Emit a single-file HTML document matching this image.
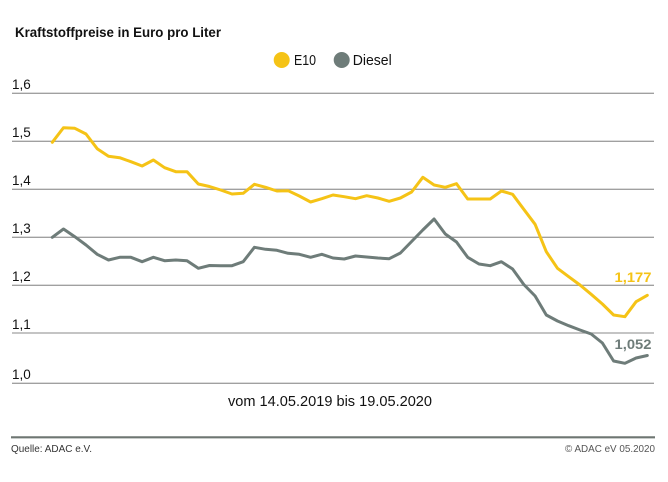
<!DOCTYPE html>
<html>
<head>
<meta charset="utf-8">
<style>
html,body{margin:0;padding:0;background:#fff;}
svg{display:block;}
text{font-family:"Liberation Sans",sans-serif;}
</style>
</head>
<body>
<svg width="668" height="482" viewBox="0 0 668 482" xmlns="http://www.w3.org/2000/svg">
<rect width="668" height="482" fill="#fff"/>
<text x="15" y="37" font-size="13.5" font-weight="bold" fill="#111" textLength="206" lengthAdjust="spacingAndGlyphs">Kraftstoffpreise in Euro pro Liter</text>

<!-- legend -->
<circle cx="281.7" cy="60" r="8" fill="#f5c316"/>
<text x="294" y="65" font-size="14.5" fill="#111" textLength="22" lengthAdjust="spacingAndGlyphs">E10</text>
<circle cx="341.7" cy="60" r="8" fill="#6e7c79"/>
<text x="352.7" y="65" font-size="14.5" fill="#111" textLength="39" lengthAdjust="spacingAndGlyphs">Diesel</text>

<!-- grid -->
<g stroke="#a0a0a0" stroke-width="1.3">
<line x1="12" y1="93.3" x2="654" y2="93.3"/>
<line x1="12" y1="141.3" x2="654" y2="141.3"/>
<line x1="12" y1="189.3" x2="654" y2="189.3"/>
<line x1="12" y1="237.3" x2="654" y2="237.3"/>
<line x1="12" y1="285.3" x2="654" y2="285.3"/>
<line x1="12" y1="333" x2="654" y2="333"/>
<line x1="12" y1="383.3" x2="654" y2="383.3"/>
</g>
<g font-size="13.5" fill="#111">
<text x="12" y="89">1,6</text>
<text x="12" y="137">1,5</text>
<text x="12" y="185">1,4</text>
<text x="12" y="233">1,3</text>
<text x="12" y="281">1,2</text>
<text x="12" y="329">1,1</text>
<text x="12" y="379">1,0</text>
</g>

<!-- E10 -->
<polyline fill="none" stroke="#f5c316" stroke-width="3" stroke-linejoin="round" stroke-linecap="round" points="
52.3,142.3 63.5,127.7 74.8,128.3 86,134 97.2,148.7 108.5,156.3 119.7,157.7 130.9,161.7 142.1,166 153.4,160
164.6,167.7 175.8,171.7 187,171.7 198.3,184 209.5,186.5 220.7,190 232,194 243.2,193.3 254.4,184.3 265.6,187.3
276.9,191 288.1,190.7 299.3,196 310.6,202 321.8,198.7 333,195 344.2,196.7 355.5,198.7 366.7,195.7 377.9,198
389.2,201.3 400.4,198 411.6,192 422.8,177.3 434.1,185 445.3,187.3 456.5,183.7 467.7,199 479,199 490.2,199
501.4,191 512.6,194.3 523.8,209.3 535.1,224.3 546.3,251.7 557.5,268.3 568.7,276.7 580,285 591.2,294.3 602.4,304
613.6,315 624.9,316.7 636.1,301.7 647.3,295.3"/>

<!-- Diesel -->
<polyline fill="none" stroke="#6e7c79" stroke-width="3" stroke-linejoin="round" stroke-linecap="round" points="
52.3,237.3 63.5,229 74.8,236.7 86,245 97.2,254.3 108.5,260 119.7,257.3 130.9,257.3 142.1,261.7 153.4,257.3
164.6,260.7 175.8,260 187,260.7 198.3,268.3 209.5,265.5 220.7,265.7 232,265.7 243.2,261.7 254.4,247.3 265.6,249.3
276.9,250.3 288.1,253.3 299.3,254.3 310.6,257.3 321.8,254.3 333,258 344.2,259 355.5,256 366.7,257 377.9,258
389.2,258.7 400.4,253 411.6,241.5 422.8,230 434.1,219 445.3,234 456.5,242 467.7,257.3 479,264 490.2,265.7
501.4,261.7 512.6,269 523.8,284.5 535.1,296 546.3,315 557.5,321 568.7,325.7 580,330 591.2,334 602.4,343
613.6,361 624.9,363.3 636.1,358 647.3,355.5"/>

<text x="651.5" y="282" font-size="14" font-weight="bold" fill="#f5c316" text-anchor="end" textLength="37" lengthAdjust="spacingAndGlyphs">1,177</text>
<text x="651.5" y="349" font-size="14" font-weight="bold" fill="#6e7c79" text-anchor="end" textLength="37" lengthAdjust="spacingAndGlyphs">1,052</text>

<text x="330" y="406" font-size="14.5" fill="#111" text-anchor="middle" textLength="204" lengthAdjust="spacingAndGlyphs">vom 14.05.2019 bis 19.05.2020</text>

<line x1="11" y1="437.3" x2="655" y2="437.3" stroke="#6e7672" stroke-width="2.2"/>
<text x="11" y="452" font-size="10.5" fill="#333" textLength="81" lengthAdjust="spacingAndGlyphs">Quelle: ADAC e.V.</text>
<text x="655" y="452" font-size="10.5" fill="#555" text-anchor="end" textLength="90" lengthAdjust="spacingAndGlyphs">© ADAC eV 05.2020</text>
</svg>
</body>
</html>
